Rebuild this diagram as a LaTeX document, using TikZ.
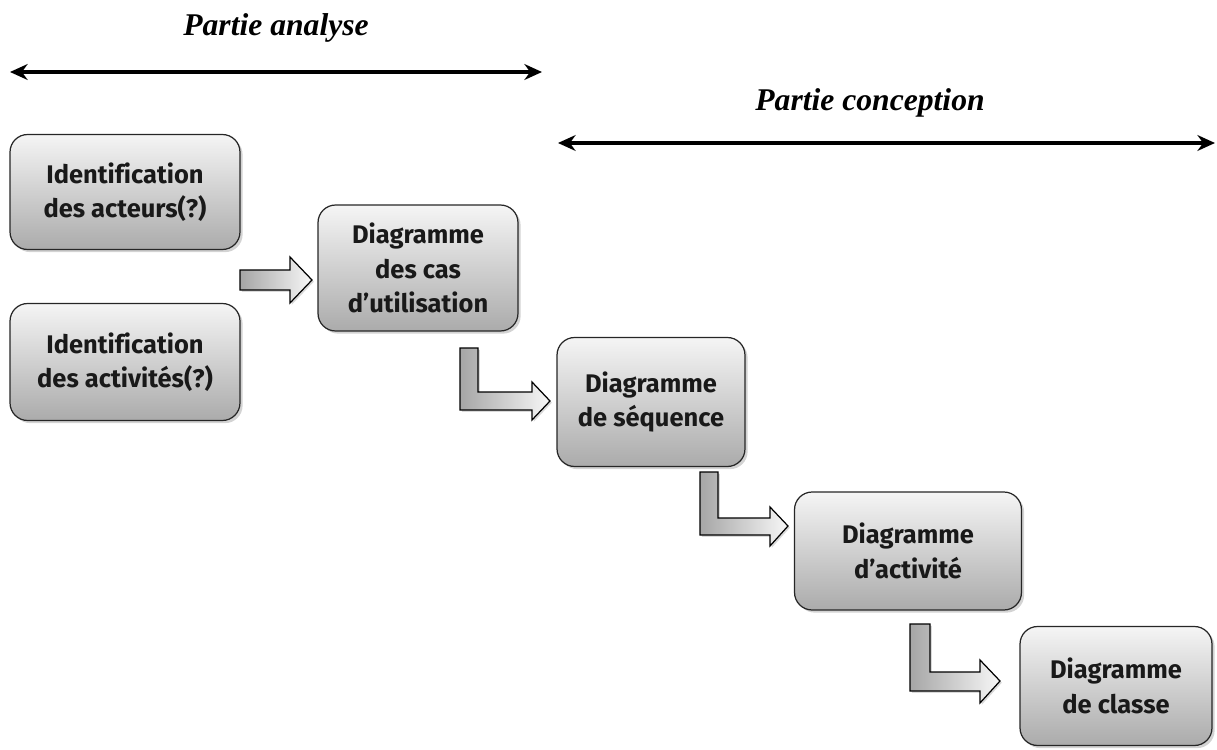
\documentclass[tikz,border=0pt]{standalone}
\usepackage{fontspec}
\setmainfont{Fira Sans}[Ligatures=NoCommon]
\newfontfamily\titlefont{Liberation Serif}
\usetikzlibrary{shadows,arrows.meta}
\begin{document}
\begin{tikzpicture}[x=0.02cm,y=-0.02cm,
  stage/.style={draw=black!85, line width=0.7pt, rounded corners=10pt,
    top color=black!4, bottom color=black!33, align=center,
    font=\fontsize{14.5}{19.5}\selectfont\bfseries, text=black!90,
    drop shadow={shadow xshift=1.5pt, shadow yshift=-1.5pt, opacity=0.35},
    inner sep=0pt},
  flow/.style={draw=black, line width=0.7pt, left color=black!35, right color=black!3,
    drop shadow={shadow xshift=1pt, shadow yshift=-1pt, opacity=0.3}},
  span/.style={{Stealth[length=10pt,width=9pt]}-{Stealth[length=10pt,width=9pt]}, line width=2pt},
  phase/.style={font=\titlefont\fontsize{18}{20}\selectfont\bfseries\itshape}]
\useasboundingbox (0,0) rectangle (1217,750);

% phase headings and their extents
\node[phase] (ta) at (276,28) {Partie analyse};
\node[phase] (tc) at (870,103) {Partie conception};
\coordinate (a1) at (10,72);  \coordinate (a2) at (542,72);
\coordinate (c1) at (558,143); \coordinate (c2) at (1215,143);
\draw[span] (a1) -- (a2);
\draw[span] (c1) -- (c2);

% stages
\node[stage, minimum width=4.6cm, minimum height=2.3cm] (acteurs) at (125,192)
  {Identification\\des acteurs(?)};
\node[stage, minimum width=4.6cm, minimum height=2.34cm] (activites) at (125,362)
  {Identification\\des activités(?)};
\node[stage, minimum width=4.0cm, minimum height=2.52cm] (cas) at (418,268)
  {Diagramme\\des cas\\d’utilisation};
\node[stage, minimum width=3.76cm, minimum height=2.58cm] (seq) at (651,402)
  {Diagramme\\de séquence};
\node[stage, minimum width=4.54cm, minimum height=2.36cm] (act) at (908,551)
  {Diagramme\\d’activité};
\node[stage, minimum width=3.84cm, minimum height=2.38cm] (cls) at (1116,686)
  {Diagramme\\de classe};

% block arrows between stages
\draw[flow] (240,270) -- (290,270) -- (290,257) -- (312,280) -- (290,303)
  -- (290,290) -- (240,290) -- cycle;
\draw[flow] (460,348) -- (478,348) -- (478,392) -- (532,392) -- (532,382)
  -- (550,401) -- (532,420) -- (532,410) -- (460,410) -- cycle;
\draw[flow] (700,472) -- (718,472) -- (718,518) -- (770,518) -- (770,507)
  -- (788,526) -- (770,546) -- (770,535) -- (700,535) -- cycle;
\draw[flow] (910,624) -- (930,624) -- (930,672) -- (980,672) -- (980,660)
  -- (1000,681) -- (980,703) -- (980,691) -- (910,691) -- cycle;
\end{tikzpicture}
\end{document}
